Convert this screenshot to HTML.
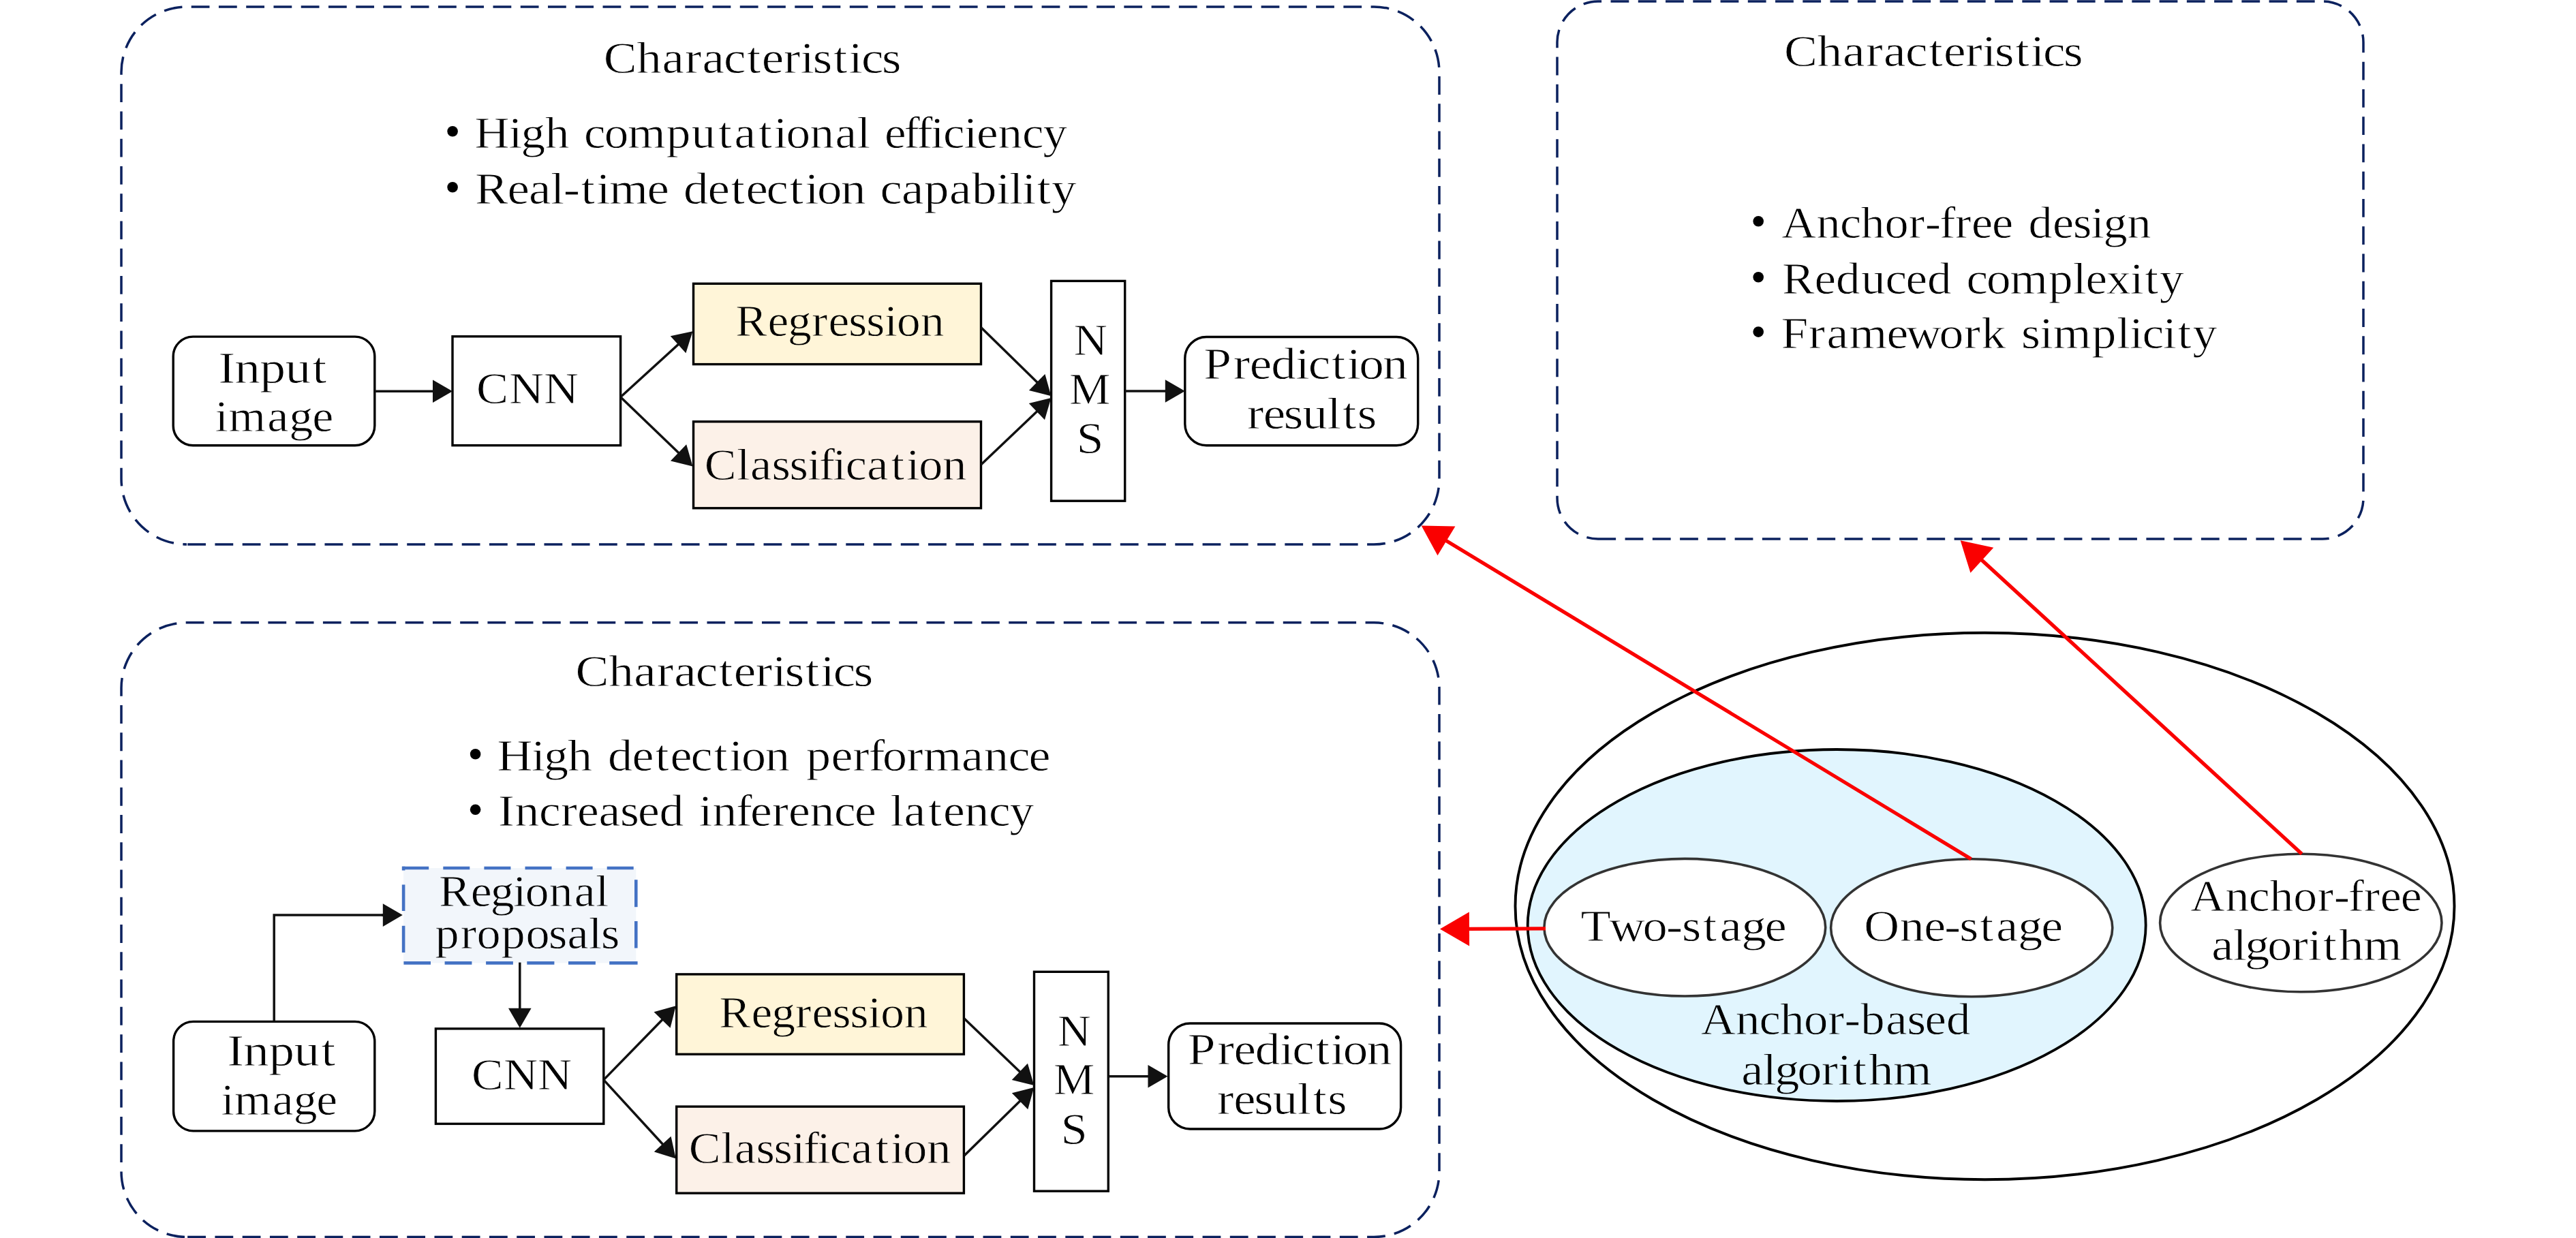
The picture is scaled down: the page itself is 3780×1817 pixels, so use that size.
<!DOCTYPE html>
<html><head><meta charset="utf-8"><style>
html,body{margin:0;padding:0;background:#fff;}
body{width:3780px;height:1817px;overflow:hidden;}
svg{display:block;}
text{font-family:"Liberation Serif",serif;}
</style></head><body>
<svg width="3780" height="1817" viewBox="0 0 3780 1817">
<rect width="3780" height="1817" fill="#fff"/>
<path d="M274,799 H2016 A96,96 0 0 0 2112,703 V106 A96,96 0 0 0 2016,10 H274 A96,96 0 0 0 178,106 V703 A96,96 0 0 0 274,799" fill="none" stroke="#0b215e" stroke-width="3.5" stroke-dasharray="26.8 13.454" stroke-dashoffset="39.080"/>
<path d="M2345,791 H3408 A60,60 0 0 0 3468,731 V62 A60,60 0 0 0 3408,2 H2345 A60,60 0 0 0 2285,62 V731 A60,60 0 0 0 2345,791" fill="none" stroke="#0b215e" stroke-width="3.5" stroke-dasharray="26.8 13.454" stroke-dashoffset="0.678"/>
<path d="M274,1815.5 H2016 A96,96 0 0 0 2112,1719.5 V1009.8 A96,96 0 0 0 2016,913.8 H274 A96,96 0 0 0 178,1009.8 V1719.5 A96,96 0 0 0 274,1815.5" fill="none" stroke="#0b215e" stroke-width="3.5" stroke-dasharray="26.8 13.454" stroke-dashoffset="39.080"/>
<ellipse cx="2912.5" cy="1330" rx="689" ry="401.2" fill="#fff" stroke="#000" stroke-width="3.9"/>
<ellipse cx="2695.2" cy="1358" rx="453.5" ry="258" fill="#e1f5fe" stroke="#000" stroke-width="3.8"/>
<ellipse cx="2472.3" cy="1361.2" rx="206.4" ry="100.8" fill="#fff" stroke="#333" stroke-width="3.6"/>
<ellipse cx="2893.2" cy="1361.8" rx="206.6" ry="101" fill="#fff" stroke="#333" stroke-width="3.6"/>
<ellipse cx="3376.3" cy="1354.5" rx="206.7" ry="101.3" fill="#fff" stroke="#333" stroke-width="3.6"/>
<rect x="254.2" y="494.1" width="295.6" height="159.6" rx="29" fill="none" stroke="#000" stroke-width="3.4"/>
<rect x="664" y="493.8" width="246.6" height="159.9" fill="none" stroke="#000" stroke-width="3.4"/>
<rect x="1017.5" y="416.3" width="422" height="118.3" fill="#fff5d8" stroke="#000" stroke-width="3.4"/>
<rect x="1017.5" y="618.8" width="422" height="127" fill="#fcf1e8" stroke="#000" stroke-width="3.4"/>
<rect x="1542.6" y="412.4" width="108.1" height="322.8" fill="none" stroke="#000" stroke-width="3.4"/>
<rect x="1738.8" y="494.5" width="341.9" height="159.3" rx="31.5" fill="none" stroke="#000" stroke-width="3.4"/>
<line x1="549.80" y1="574.20" x2="637.00" y2="574.20" stroke="#111" stroke-width="3.5"/>
<polygon points="664.00,574.20 635.00,591.00 635.00,557.40" fill="#111"/>
<line x1="910.60" y1="582.80" x2="996.55" y2="504.40" stroke="#111" stroke-width="3.5"/>
<polygon points="1016.50,486.20 1006.40,518.16 983.75,493.33" fill="#111"/>
<line x1="910.60" y1="582.80" x2="997.02" y2="665.71" stroke="#111" stroke-width="3.5"/>
<polygon points="1016.50,684.40 983.94,676.45 1007.20,652.20" fill="#111"/>
<line x1="1439.50" y1="480.40" x2="1523.11" y2="562.31" stroke="#111" stroke-width="3.5"/>
<polygon points="1542.40,581.20 1509.93,572.91 1533.44,548.91" fill="#111"/>
<line x1="1439.50" y1="682.00" x2="1522.84" y2="602.71" stroke="#111" stroke-width="3.5"/>
<polygon points="1542.40,584.10 1532.97,616.26 1509.81,591.92" fill="#111"/>
<line x1="1650.70" y1="574.00" x2="1711.80" y2="574.00" stroke="#111" stroke-width="3.5"/>
<polygon points="1738.80,574.00 1709.80,590.80 1709.80,557.20" fill="#111"/>
<rect x="254.6" y="1499.4" width="295.2" height="160.5" rx="29" fill="none" stroke="#000" stroke-width="3.4"/>
<rect x="639.4" y="1509.8" width="246.4" height="139.6" fill="none" stroke="#000" stroke-width="3.4"/>
<rect x="992.7" y="1429.9" width="421.7" height="117.4" fill="#fff5d8" stroke="#000" stroke-width="3.4"/>
<rect x="992.7" y="1624.1" width="421.7" height="127.1" fill="#fcf1e8" stroke="#000" stroke-width="3.4"/>
<rect x="1517.5" y="1426.3" width="108.8" height="321.9" fill="none" stroke="#000" stroke-width="3.4"/>
<rect x="1714.7" y="1502" width="340.9" height="155" rx="31.5" fill="none" stroke="#000" stroke-width="3.4"/>
<rect x="592.1" y="1274" width="341.2" height="139.4" fill="#f2f6fb"/>
<line x1="590.2" y1="1274" x2="629.2" y2="1274" stroke="#4472c4" stroke-width="4.6"/>
<line x1="650.3" y1="1274" x2="689.3" y2="1274" stroke="#4472c4" stroke-width="4.6"/>
<line x1="710.4" y1="1274" x2="749.4" y2="1274" stroke="#4472c4" stroke-width="4.6"/>
<line x1="770.5" y1="1274" x2="809.5" y2="1274" stroke="#4472c4" stroke-width="4.6"/>
<line x1="830.6" y1="1274" x2="869.6" y2="1274" stroke="#4472c4" stroke-width="4.6"/>
<line x1="890.7" y1="1274" x2="929.7" y2="1274" stroke="#4472c4" stroke-width="4.6"/>
<line x1="933.3" y1="1291.2" x2="933.3" y2="1331.2" stroke="#4472c4" stroke-width="4.6"/>
<line x1="933.3" y1="1352" x2="933.3" y2="1391.5" stroke="#4472c4" stroke-width="4.6"/>
<line x1="592.4" y1="1413.4" x2="632" y2="1413.4" stroke="#4472c4" stroke-width="4.6"/>
<line x1="652.6" y1="1413.4" x2="692.4" y2="1413.4" stroke="#4472c4" stroke-width="4.6"/>
<line x1="713.1" y1="1413.4" x2="752.9" y2="1413.4" stroke="#4472c4" stroke-width="4.6"/>
<line x1="773.3" y1="1413.4" x2="813.4" y2="1413.4" stroke="#4472c4" stroke-width="4.6"/>
<line x1="834" y1="1413.4" x2="873.9" y2="1413.4" stroke="#4472c4" stroke-width="4.6"/>
<line x1="894.2" y1="1413.4" x2="935.6" y2="1413.4" stroke="#4472c4" stroke-width="4.6"/>
<line x1="592.1" y1="1271.7" x2="592.1" y2="1277.5" stroke="#4472c4" stroke-width="4.6"/>
<line x1="592.1" y1="1298.4" x2="592.1" y2="1337" stroke="#4472c4" stroke-width="4.6"/>
<line x1="592.1" y1="1358.8" x2="592.1" y2="1398" stroke="#4472c4" stroke-width="4.6"/>
<polyline points="402.2,1499.4 402.2,1343.1 565,1343.1" fill="none" stroke="#111" stroke-width="3.5"/>
<line x1="560.00" y1="1343.10" x2="563.80" y2="1343.10" stroke="#111" stroke-width="3.5"/>
<polygon points="590.80,1343.10 561.80,1359.90 561.80,1326.30" fill="#111"/>
<line x1="762.80" y1="1412.60" x2="762.80" y2="1481.80" stroke="#111" stroke-width="3.5"/>
<polygon points="762.80,1508.80 746.00,1479.80 779.60,1479.80" fill="#111"/>
<line x1="885.80" y1="1584.90" x2="972.95" y2="1495.53" stroke="#111" stroke-width="3.5"/>
<polygon points="991.80,1476.20 983.58,1508.69 959.53,1485.23" fill="#111"/>
<line x1="885.80" y1="1584.90" x2="973.54" y2="1680.51" stroke="#111" stroke-width="3.5"/>
<polygon points="991.80,1700.40 959.81,1690.39 984.57,1667.67" fill="#111"/>
<line x1="1415.00" y1="1495.00" x2="1497.80" y2="1574.32" stroke="#111" stroke-width="3.5"/>
<polygon points="1517.30,1593.00 1484.74,1585.07 1507.98,1560.81" fill="#111"/>
<line x1="1415.00" y1="1695.90" x2="1497.98" y2="1614.86" stroke="#111" stroke-width="3.5"/>
<polygon points="1517.30,1596.00 1508.29,1628.28 1484.81,1604.24" fill="#111"/>
<line x1="1626.30" y1="1579.70" x2="1686.50" y2="1579.70" stroke="#111" stroke-width="3.5"/>
<polygon points="1713.50,1579.70 1684.50,1596.50 1684.50,1562.90" fill="#111"/>
<line x1="2892.40" y1="1260.70" x2="2120.76" y2="792.76" stroke="#fa0000" stroke-width="5.3"/>
<polygon points="2085.70,771.50 2135.43,772.42 2109.50,815.17" fill="#fa0000"/>
<line x1="3377.60" y1="1253.20" x2="2906.90" y2="820.93" stroke="#fa0000" stroke-width="5.3"/>
<polygon points="2876.70,793.20 2925.28,803.87 2891.46,840.70" fill="#fa0000"/>
<line x1="2268.00" y1="1362.80" x2="2154.00" y2="1363.39" stroke="#fa0000" stroke-width="5.3"/>
<polygon points="2113.00,1363.60 2155.87,1338.38 2156.13,1388.38" fill="#fa0000"/>
<g font-family="Liberation Serif" fill="#000">
<text x="799.4 843.3 876.7 907.0 930.0 958.4 989.1 1008.9 1037.9 1060.0 1076.6 1103.8 1124.1 1140.7 1167.8" y="107.10" font-size="66" transform="scale(1.1080,1)" stroke="#fff" stroke-width="0.8">Characteristics</text>
<text x="645.8 692.5 709.3 741.8 777.4 795.1 822.5 854.6 906.9 941.2 977.7 999.6 1032.5 1053.3 1070.1 1102.6 1136.9 1166.5 1186.5 1204.2 1230.4 1247.7 1266.9 1283.9 1312.2 1329.4 1358.6 1391.5 1419.8" y="217.00" font-size="66" transform="scale(1.0780,1)" stroke="#fff" stroke-width="0.8">High computational efficiency</text>
<text x="630.9 674.0 702.5 731.5 748.3 771.8 792.2 809.6 859.6 889.5 907.9 940.1 970.9 990.8 1018.0 1048.8 1069.2 1085.4 1117.0 1152.0 1169.1 1197.7 1227.5 1261.0 1290.8 1323.5 1340.7 1357.9 1377.4 1396.8" y="299.00" font-size="66" transform="scale(1.1047,1)" stroke="#fff" stroke-width="0.8">Real-time detection capability</text>
<text x="279.7 300.8 333.1 365.5 400.3" y="561.70" font-size="66" transform="scale(1.1448,1)" stroke="#fff" stroke-width="0.8">Input</text>
<text x="297.2 316.0 369.4 399.6 431.6" y="633.00" font-size="66" transform="scale(1.0619,1)" stroke="#fff" stroke-width="0.8">image</text>
<text x="654.0 699.0 746.7" y="592.30" font-size="66" transform="scale(1.0687,1)" stroke="#fff" stroke-width="0.8">CNN</text>
<text x="1026.5 1071.4 1099.5 1133.1 1156.0 1184.5 1209.2 1234.3 1251.7 1285.0" y="493.10" font-size="66" transform="scale(1.0514,1)" stroke="#fff5d8" stroke-width="0.8">Regression</text>
<text x="971.3 1015.6 1034.5 1064.1 1088.5 1113.3 1129.1 1148.3 1165.6 1195.2 1228.4 1249.5 1266.6 1299.5" y="703.80" font-size="66" transform="scale(1.0644,1)" stroke="#fcf1e8" stroke-width="0.8">Classification</text>
<text x="1510.3" y="520.60" font-size="66" transform="scale(1.0431,1)" stroke="#fff" stroke-width="0.8">N</text>
<text x="1520.6" y="593.20" font-size="66" transform="scale(1.0319,1)" stroke="#fff" stroke-width="0.8">M</text>
<text x="1461.4" y="665.00" font-size="66" transform="scale(1.0810,1)" stroke="#fff" stroke-width="0.8">S</text>
<text x="1593.2 1632.5 1654.1 1682.5 1715.1 1731.7 1762.5 1782.8 1798.9 1830.5" y="556.00" font-size="66" transform="scale(1.1086,1)" stroke="#fff" stroke-width="0.8">Prediction</text>
<text x="1647.5 1669.1 1696.1 1720.8 1753.3 1773.6 1793.3" y="628.60" font-size="66" transform="scale(1.1107,1)" stroke="#fff" stroke-width="0.8">results</text>
<text x="2351.7 2395.3 2429.1 2459.7 2483.0 2511.7 2542.4 2562.0 2590.9 2612.9 2629.4 2656.5 2676.7 2693.2 2720.2" y="96.60" font-size="66" transform="scale(1.1132,1)" stroke="#fff" stroke-width="0.8">Characteristics</text>
<text x="2455.6 2503.7 2536.1 2564.8 2597.7 2630.9 2653.4 2673.2 2694.8 2717.4 2745.6 2776.4 2795.9 2829.2 2857.3 2882.1 2899.2 2932.1" y="349.00" font-size="66" transform="scale(1.0646,1)" stroke="#fff" stroke-width="0.8">Anchor-free design</text>
<text x="2422.0 2465.9 2495.1 2529.4 2562.2 2590.0 2619.2 2654.8 2672.5 2699.8 2731.8 2784.1 2817.3 2834.5 2862.8 2895.1 2915.0 2935.0" y="431.00" font-size="66" transform="scale(1.0797,1)" stroke="#fff" stroke-width="0.8">Reduced complexity</text>
<text x="2406.6 2443.9 2468.3 2498.7 2549.3 2575.6 2620.2 2653.8 2677.3 2712.7 2731.2 2756.0 2774.1 2826.5 2860.1 2877.6 2894.6 2922.7 2942.5 2962.8" y="511.40" font-size="66" transform="scale(1.0860,1)" stroke="#fff" stroke-width="0.8">Framework simplicity</text>
<text x="760.8 804.6 838.0 868.2 891.2 919.5 950.2 970.0 998.9 1021.0 1037.6 1064.6 1084.9 1101.5 1128.5" y="1007.10" font-size="66" transform="scale(1.1101,1)" stroke="#fff" stroke-width="0.8">Characteristics</text>
<text x="667.8 714.0 730.5 762.5 797.8 816.5 849.0 880.1 900.3 927.8 958.9 979.5 995.9 1028.0 1063.2 1082.9 1116.3 1145.6 1166.7 1185.4 1217.9 1240.3 1291.6 1321.8 1354.3 1381.8" y="1131.10" font-size="66" transform="scale(1.0925,1)" stroke="#fff" stroke-width="0.8">High detection performance</text>
<text x="674.3 697.0 729.7 759.2 781.4 810.4 839.5 863.5 892.5 928.0 946.0 964.5 996.3 1015.7 1045.2 1067.4 1096.4 1129.2 1156.9 1187.2 1205.2 1223.7 1256.4 1276.8 1305.8 1338.6 1366.7" y="1212.50" font-size="66" transform="scale(1.0840,1)" stroke="#fff" stroke-width="0.8">Increased inference latency</text>
<text x="610.5 654.9 682.4 713.9 730.8 763.9 799.0 828.6" y="1330.30" font-size="66" transform="scale(1.0548,1)" stroke="#f2f6fb" stroke-width="0.8">Regional</text>
<text x="599.7 634.8 657.0 690.8 724.6 756.0 781.9 811.3 828.3" y="1392.40" font-size="66" transform="scale(1.0647,1)" stroke="#f2f6fb" stroke-width="0.8">proposals</text>
<text x="293.1 314.4 347.0 379.5 414.6" y="1564.40" font-size="66" transform="scale(1.1367,1)" stroke="#fff" stroke-width="0.8">Input</text>
<text x="308.1 326.8 379.6 409.1 440.8" y="1635.60" font-size="66" transform="scale(1.0530,1)" stroke="#fff" stroke-width="0.8">image</text>
<text x="654.3 698.8 746.1" y="1599.00" font-size="66" transform="scale(1.0576,1)" stroke="#fff" stroke-width="0.8">CNN</text>
<text x="1003.7 1048.7 1076.8 1110.3 1133.3 1161.8 1186.5 1211.6 1229.0 1262.2" y="1508.20" font-size="66" transform="scale(1.0514,1)" stroke="#fff5d8" stroke-width="0.8">Regression</text>
<text x="949.7 994.0 1012.9 1042.5 1066.9 1091.7 1107.5 1126.7 1144.0 1173.6 1206.8 1227.9 1245.0 1277.9" y="1706.90" font-size="66" transform="scale(1.0644,1)" stroke="#fcf1e8" stroke-width="0.8">Classification</text>
<text x="1517.2" y="1535.10" font-size="66" transform="scale(1.0229,1)" stroke="#fff" stroke-width="0.8">N</text>
<text x="1498.3" y="1606.20" font-size="66" transform="scale(1.0319,1)" stroke="#fff" stroke-width="0.8">M</text>
<text x="1469.0" y="1679.40" font-size="66" transform="scale(1.0597,1)" stroke="#fff" stroke-width="0.8">S</text>
<text x="1571.6 1611.0 1632.6 1660.9 1693.5 1710.1 1740.9 1761.1 1777.3 1808.8" y="1562.40" font-size="66" transform="scale(1.1089,1)" stroke="#fff" stroke-width="0.8">Prediction</text>
<text x="1621.3 1643.0 1670.3 1695.2 1727.9 1748.4 1768.3" y="1635.00" font-size="66" transform="scale(1.1018,1)" stroke="#fff" stroke-width="0.8">results</text>
<text x="2112.7 2150.9 2195.6 2227.0 2248.0 2276.2 2298.5 2327.6 2358.6" y="1381.40" font-size="66" transform="scale(1.0979,1)" stroke="#fff" stroke-width="0.8">Two-stage</text>
<text x="2515.6 2563.9 2596.5 2624.1 2644.3 2671.9 2694.0 2723.4 2754.7" y="1381.40" font-size="66" transform="scale(1.0873,1)" stroke="#fff" stroke-width="0.8">One-stage</text>
<text x="3041.1 3089.6 3122.2 3151.1 3184.2 3217.6 3240.3 3260.2 3281.9 3304.8 3333.1" y="1337.10" font-size="66" transform="scale(1.0569,1)" stroke="#fff" stroke-width="0.8">Anchor-free</text>
<text x="2968.3 2997.1 3013.1 3043.3 3075.8 3097.8 3117.9 3139.4 3172.3" y="1409.40" font-size="66" transform="scale(1.0933,1)" stroke="#fff" stroke-width="0.8">algorithm</text>
<text x="2328.1 2376.0 2408.2 2436.7 2469.3 2502.4 2524.7 2546.8 2581.3 2610.6 2634.9 2664.3" y="1517.60" font-size="66" transform="scale(1.0720,1)" stroke="#e1f5fe" stroke-width="0.8">Anchor-based</text>
<text x="2331.5 2360.2 2376.1 2406.3 2438.7 2460.6 2480.6 2502.1 2534.9" y="1592.20" font-size="66" transform="scale(1.0960,1)" stroke="#e1f5fe" stroke-width="0.8">algorithm</text>
</g>
<circle cx="664.1" cy="192.7" r="7.8" fill="#000"/>
<circle cx="664.1" cy="274.7" r="7.8" fill="#000"/>
<circle cx="2580.2" cy="324.7" r="7.8" fill="#000"/>
<circle cx="2580.2" cy="406.7" r="7.8" fill="#000"/>
<circle cx="2580.2" cy="487.1" r="7.8" fill="#000"/>
<circle cx="697.6" cy="1106.8" r="7.8" fill="#000"/>
<circle cx="697.6" cy="1188.2" r="7.8" fill="#000"/>
</svg></body></html>
